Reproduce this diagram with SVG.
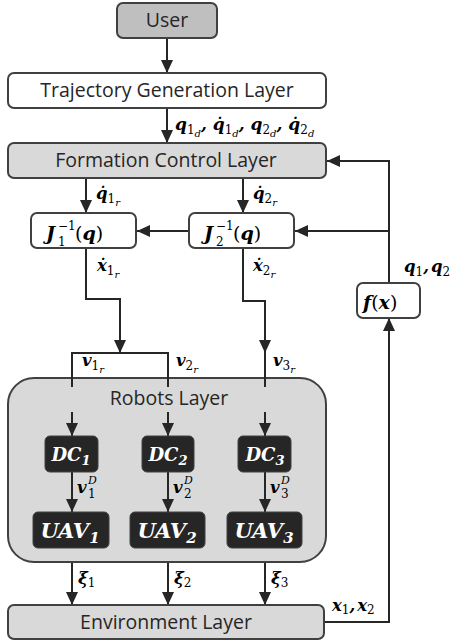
<svg xmlns="http://www.w3.org/2000/svg" width="452" height="643" viewBox="0 0 452 643">
  <style>
    .box { stroke: #404040; stroke-width: 2; }
    .white { fill: #ffffff; }
    .grey { fill: #d9d9d9; }
    .dark { fill: #bfbfbf; }
    .blk { fill: #262626; stroke: #404040; stroke-width: 1; }
    .lbl { font-family: "Open Sans", "Noto Sans", sans-serif; font-size: 19.5px; fill: #262626; text-anchor: middle; }
    .m { font-family: "DejaVu Serif", "Liberation Serif", serif; font-weight: bold; font-style: italic; font-size: 16.5px; fill: #000; }
    .s { font-family: "DejaVu Serif", "Liberation Serif", serif; font-weight: normal; font-style: normal; font-size: 12px; }
    .si { font-family: "DejaVu Serif", "Liberation Serif", serif; font-weight: normal; font-style: italic; font-size: 10px; }
    .w { font-family: "DejaVu Serif", serif; font-weight: bold; font-style: italic; fill: #ffffff; text-anchor: middle; }
    .ln { fill: none; stroke: #262626; stroke-width: 2; }
    .arr { fill: none; stroke: #262626; stroke-width: 2; marker-end: url(#ah); }
  </style>
  <defs>
    <marker id="ah" markerUnits="userSpaceOnUse" markerWidth="14" markerHeight="14" viewBox="0 0 14 14" refX="13" refY="7" orient="auto">
      <path d="M0,1 L13,7 L0,13 Z" fill="#262626"/>
    </marker>
  </defs>

  <!-- connectors between the layers -->
  <g id="connectors">
    <line class="arr" x1="167" y1="38" x2="167" y2="73"/>
    <line class="arr" x1="167" y1="108" x2="167" y2="143"/>
    <line class="arr" x1="86" y1="178" x2="86" y2="213"/>
    <line class="arr" x1="243" y1="178" x2="243" y2="213"/>
    <line class="arr" x1="189" y1="231" x2="137" y2="231"/>
    <line class="arr" x1="389" y1="231" x2="295" y2="231"/>
    <polyline class="arr" points="389,283 389,161 327,161"/>
    <polyline class="arr" points="325,622 389,622 389,318"/>
    <polyline class="arr" points="86,248 86,299 120,299 120,353"/>
    <polyline class="ln" points="72,387 72,353 168,353 168,387"/>
    <polyline class="arr" points="243,248 243,301 265,301 265,353"/>
    <line class="ln" x1="265" y1="352" x2="265" y2="387"/>
    <line class="arr" x1="72" y1="548" x2="72" y2="605"/>
    <line class="arr" x1="168" y1="548" x2="168" y2="605"/>
    <line class="arr" x1="265" y1="548" x2="265" y2="605"/>
  </g>

  <!-- robots layer container with its inner connectors -->
  <g id="robots">
    <rect class="box grey" x="8" y="378" width="318" height="184" rx="26"/>
    <text class="lbl" x="169" y="405">Robots Layer</text>
    <line class="ln" x1="72" y1="376" x2="72" y2="387"/>
    <line class="ln" x1="168" y1="376" x2="168" y2="387"/>
    <line class="ln" x1="265" y1="376" x2="265" y2="387"/>
    <line class="arr" x1="72" y1="412" x2="72" y2="436"/>
    <line class="arr" x1="168" y1="412" x2="168" y2="436"/>
    <line class="arr" x1="265" y1="412" x2="265" y2="436"/>
    <line class="arr" x1="72" y1="472" x2="72" y2="512"/>
    <line class="arr" x1="168" y1="472" x2="168" y2="512"/>
    <line class="arr" x1="265" y1="472" x2="265" y2="512"/>
  </g>

  <g id="user">
    <rect class="box dark" x="117" y="3" width="100" height="35" rx="6"/>
    <text class="lbl" x="167" y="27">User</text>
  </g>
  <g id="trajectory">
    <rect class="box white" x="8" y="73" width="318" height="35" rx="6"/>
    <text class="lbl" x="167" y="97">Trajectory Generation Layer</text>
  </g>
  <g id="formation">
    <rect class="box grey" x="8" y="143" width="318" height="35" rx="6"/>
    <text class="lbl" x="166" y="167">Formation Control Layer</text>
  </g>
  <g id="jacobian1">
    <rect class="box white" x="31" y="213" width="105" height="35" rx="6"/>
    <text class="m" x="46" y="240" style="font-size:19px">J</text>
    <text class="s" x="58" y="246">1</text>
    <text class="s" x="58" y="230">−1</text>
    <text class="m" x="75" y="240" style="font-size:19px"><tspan style="font-weight:normal;font-style:normal">(</tspan>q<tspan style="font-weight:normal;font-style:normal">)</tspan></text>
  </g>
  <g id="jacobian2">
    <rect class="box white" x="189" y="213" width="105" height="35" rx="6"/>
    <text class="m" x="204" y="240" style="font-size:19px">J</text>
    <text class="s" x="216" y="246">2</text>
    <text class="s" x="216" y="230">−1</text>
    <text class="m" x="233" y="240" style="font-size:19px"><tspan style="font-weight:normal;font-style:normal">(</tspan>q<tspan style="font-weight:normal;font-style:normal">)</tspan></text>
  </g>
  <g id="fx">
    <rect class="box white" x="357" y="283" width="63" height="35" rx="6"/>
    <text class="m" x="363" y="309" style="font-size:19px">f<tspan style="font-weight:normal;font-style:normal">(</tspan>x<tspan style="font-weight:normal;font-style:normal">)</tspan></text>
  </g>
  <g id="dc1">
    <rect class="blk" x="45" y="436" width="53" height="36" rx="5"/>
    <text class="w" x="71" y="461" style="font-size:18px">DC<tspan style="font-size:13px" dy="4">1</tspan></text>
  </g>
  <g id="dc2">
    <rect class="blk" x="142" y="436" width="52" height="36" rx="5"/>
    <text class="w" x="168" y="461" style="font-size:18px">DC<tspan style="font-size:13px" dy="4">2</tspan></text>
  </g>
  <g id="dc3">
    <rect class="blk" x="238" y="436" width="53" height="36" rx="5"/>
    <text class="w" x="265" y="461" style="font-size:18px">DC<tspan style="font-size:13px" dy="4">3</tspan></text>
  </g>
  <g id="uav1">
    <rect class="blk" x="33" y="512" width="76" height="36" rx="5"/>
    <text class="w" x="70" y="538" style="font-size:21px">UAV<tspan style="font-size:15px" dy="5">1</tspan></text>
  </g>
  <g id="uav2">
    <rect class="blk" x="130" y="512" width="75" height="36" rx="5"/>
    <text class="w" x="167" y="538" style="font-size:21px">UAV<tspan style="font-size:15px" dy="5">2</tspan></text>
  </g>
  <g id="uav3">
    <rect class="blk" x="227" y="512" width="75" height="36" rx="5"/>
    <text class="w" x="264" y="538" style="font-size:21px">UAV<tspan style="font-size:15px" dy="5">3</tspan></text>
  </g>
  <g id="environment">
    <rect class="box grey" x="8" y="605" width="316" height="34" rx="6"/>
    <text class="lbl" x="166" y="629">Environment Layer</text>
  </g>

  <!-- signal labels -->
  <g id="labels">
    <text class="m" x="175" y="130" style="font-size:17px">q<tspan class="s" dy="4">1</tspan><tspan class="si" dy="3">d</tspan><tspan dy="-7">, q&#x307;</tspan><tspan class="s" dy="4">1</tspan><tspan class="si" dy="3">d</tspan><tspan dy="-7">, q</tspan><tspan class="s" dy="4">2</tspan><tspan class="si" dy="3">d</tspan><tspan dy="-7">, q&#x307;</tspan><tspan class="s" dy="4">2</tspan><tspan class="si" dy="3">d</tspan></text>
    <text class="m" x="96" y="199">q&#x307;<tspan class="s" dy="4">1</tspan><tspan class="si" dy="3">r</tspan></text>
    <text class="m" x="253" y="199">q&#x307;<tspan class="s" dy="4">2</tspan><tspan class="si" dy="3">r</tspan></text>
    <text class="m" x="97" y="271">x&#x307;<tspan class="s" dy="4">1</tspan><tspan class="si" dy="3">r</tspan></text>
    <text class="m" x="253" y="271">x&#x307;<tspan class="s" dy="4">2</tspan><tspan class="si" dy="3">r</tspan></text>
    <text class="m" x="404" y="272">q<tspan class="s" dy="4">1</tspan><tspan dy="-4">,</tspan><tspan dx="2">q</tspan><tspan class="s" dy="4">2</tspan></text>
    <text class="m" x="82" y="366">v<tspan class="s" dy="4">1</tspan><tspan class="si" dy="3">r</tspan></text>
    <text class="m" x="176" y="366">v<tspan class="s" dy="4">2</tspan><tspan class="si" dy="3">r</tspan></text>
    <text class="m" x="273" y="366">v<tspan class="s" dy="4">3</tspan><tspan class="si" dy="3">r</tspan></text>
    <text class="m" x="77" y="493">v</text><text class="si" x="88" y="484" style="font-size:11px">D</text><text class="s" x="88" y="498">1</text>
    <text class="m" x="173" y="493">v</text><text class="si" x="184" y="484" style="font-size:11px">D</text><text class="s" x="184" y="498">2</text>
    <text class="m" x="270" y="493">v</text><text class="si" x="281" y="484" style="font-size:11px">D</text><text class="s" x="281" y="498">3</text>
    <text class="m" x="78" y="584">ξ<tspan class="s" dy="3">1</tspan></text>
    <text class="m" x="174" y="584">ξ<tspan class="s" dy="3">2</tspan></text>
    <text class="m" x="271" y="584">ξ<tspan class="s" dy="3">3</tspan></text>
    <text class="m" x="332" y="611">x<tspan class="s" dy="3">1</tspan><tspan dy="-3">,</tspan><tspan dx="2">x</tspan><tspan class="s" dy="3">2</tspan></text>
  </g>
</svg>
